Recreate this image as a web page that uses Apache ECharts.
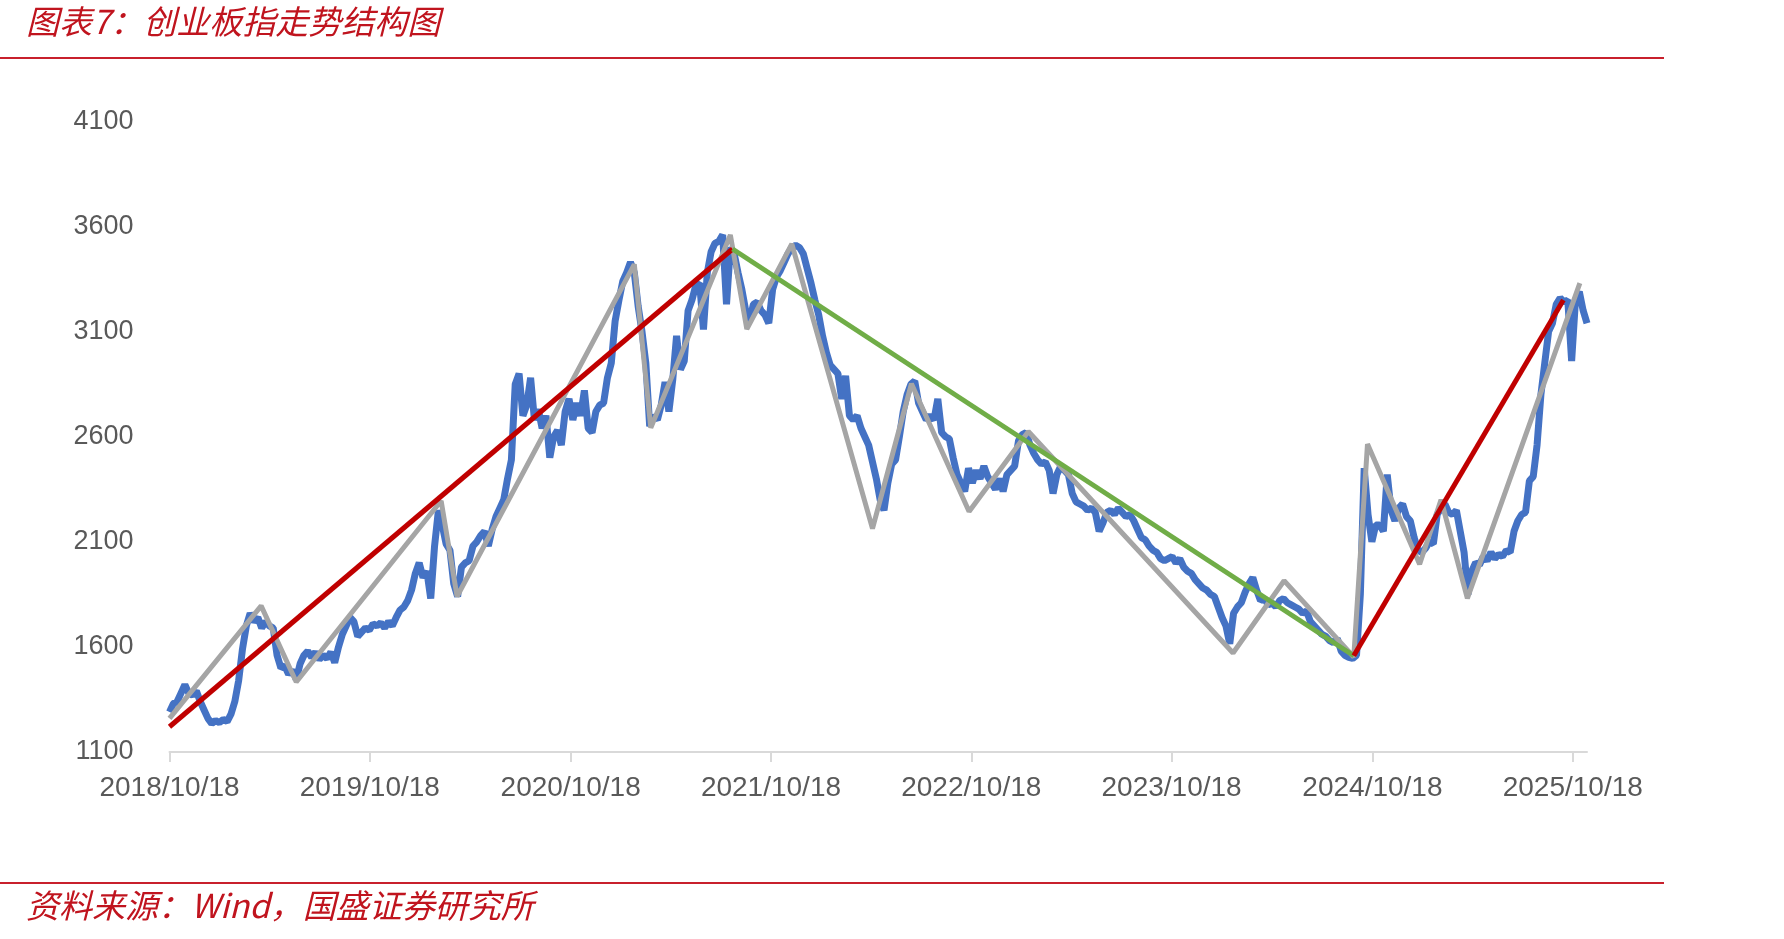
<!DOCTYPE html>
<html><head><meta charset="utf-8">
<script src="https://cdn.jsdelivr.net/npm/echarts@6/dist/echarts.min.js"></script>
<style>html,body{margin:0;padding:0;background:#fff}#chart{width:1784px;height:939px}</style>
</head><body><div id="chart"></div>
<script>
const titleText = '图表7：创业板指走势结构图';
const sourceText = '资料来源：Wind，国盛证券研究所';
const xTickDates = ['2018-10-18','2019-10-18','2020-10-18','2021-10-18','2022-10-18','2023-10-18','2024-10-18','2025-10-18'];
const xMinDate = '2018-10-18';
const xMaxDate = '2025-11-13';
const yMin = 1100, yMax = 4100, yStep = 500;

// 创业板指 (weekly readings from the picture)
const blueStart = '2018-10-18';
const blueStepDays = 7;
const blueValues = [
1290,1330,1340,1380,1420,1380,1370,1390,1340,1300,
1260,1235,1250,1240,1255,1245,1280,1340,1440,1590,
1700,1760,1720,1740,1690,1720,1700,1690,1560,1500,
1510,1470,1490,1445,1520,1560,1580,1550,1575,1540,
1560,1545,1575,1525,1600,1660,1700,1740,1720,1650,
1670,1690,1680,1710,1700,1715,1690,1720,1700,1740,
1775,1790,1820,1870,1950,2000,1930,1960,1830,2080,
2250,2180,2090,2060,1900,1840,1980,2000,2010,2080,
2100,2130,2150,2080,2160,2220,2260,2300,2400,2490,
2850,2900,2700,2750,2880,2680,2730,2640,2700,2500,
2600,2630,2560,2720,2780,2680,2760,2700,2820,2640,
2620,2720,2750,2760,2880,2950,3150,3250,3340,3380,
3430,3380,3220,3100,2950,2650,2700,2680,2750,2860,
2720,2870,3080,2920,2960,3200,3250,3320,3330,3110,
3380,3480,3520,3530,3560,3230,3500,3470,3380,3300,
3200,3150,3230,3240,3200,3180,3140,3300,3360,3390,
3430,3470,3500,3510,3500,3470,3400,3330,3250,3180,
3080,3000,2940,2920,2900,2780,2890,2700,2680,2700,
2640,2600,2560,2480,2400,2300,2250,2380,2470,2490,
2600,2720,2800,2850,2865,2760,2720,2680,2700,2680,
2780,2620,2600,2590,2500,2420,2380,2340,2450,2380,
2440,2400,2460,2410,2380,2350,2400,2340,2420,2440,
2460,2580,2610,2620,2560,2520,2490,2470,2480,2440,
2330,2420,2460,2440,2420,2330,2290,2280,2270,2250,
2260,2240,2150,2190,2240,2250,2230,2260,2240,2220,
2230,2200,2160,2120,2110,2080,2060,2050,2020,2010,
2020,2030,2000,2020,1980,1960,1950,1920,1900,1880,
1870,1850,1840,1790,1740,1700,1615,1760,1790,1810,
1860,1900,1930,1870,1820,1830,1800,1810,1790,1820,
1830,1810,1800,1790,1780,1760,1770,1720,1700,1680,
1660,1650,1630,1620,1640,1580,1560,1550,1545,1560,
1850,2450,2230,2100,2180,2180,2150,2420,2250,2200,
2260,2280,2220,2200,2120,2060,2050,2070,2100,2090,
2230,2260,2280,2240,2230,2250,2150,2050,1850,1960,
2000,1990,2030,2010,2050,2020,2040,2030,2060,2050,
2150,2200,2230,2240,2390,2410,2560,2800,2950,3100,
3140,3230,3260,3240,3250,2960,3250,3290,3200,3140
];

// grey zigzag structure
const greyDates = ['2018-10-18','2019-04-03','2019-06-06','2020-02-25','2020-03-25','2021-02-11','2021-03-13','2021-08-05','2021-09-04','2021-11-25','2022-04-21','2022-07-01','2022-10-14','2023-01-30','2024-02-07','2024-05-10','2024-09-14','2024-10-09','2025-01-12','2025-02-20','2025-04-09','2025-10-31'];
const greyValues = [1260,1795,1433,2295,1840,3420,2642,3560,3112,3517,2163,2852,2244,2625,1571,1915,1552,2565,1993,2300,1831,3331];

// trend lines
const red1Dates = ['2018-10-18','2021-08-09'];
const red1Values = [1220,3493];
const greenDates = ['2021-08-09','2024-09-14'];
const greenValues = [3493,1558];
const red2Dates = ['2024-09-14','2025-10-01'];
const red2Values = [1558,3250];

function ts(s){ const p = s.split('-').map(Number); return new Date(p[0], p[1]-1, p[2]).getTime(); }
function pairs(ds, vs){ return ds.map((d,i)=>[ts(d), vs[i]]); }

const blueData = blueValues.map((v,i)=>[ts(blueStart) + i*blueStepDays*86400000, v]);
const xTicks = xTickDates.map(ts);
function fmt(v){ const d = new Date(v); return d.getFullYear() + '/' + (d.getMonth()+1) + '/' + d.getDate(); }

const chart = echarts.init(document.getElementById('chart'));
chart.setOption({
  animation: false,
  backgroundColor: '#ffffff',
  grid: { left: 169.5, right: 197, top: 121.4, bottom: 187 },
  xAxis: {
    type: 'value', min: ts(xMinDate), max: ts(xMaxDate), scale: true,
    axisLine: { show: true, lineStyle: { color: '#D9D9D9', width: 2 } },
    axisTick: { show: true, customValues: xTicks, length: 10, lineStyle: { color: '#D9D9D9', width: 2 } },
    axisLabel: { customValues: xTicks, formatter: fmt, color: '#595959', fontFamily: 'Liberation Sans', fontSize: 28, margin: 22 },
    splitLine: { show: false }
  },
  yAxis: {
    type: 'value', min: yMin, max: yMax, interval: yStep,
    axisLine: { show: false }, axisTick: { show: false }, splitLine: { show: false },
    axisLabel: { formatter: v => String(v), color: '#595959', fontFamily: 'Liberation Sans', fontSize: 27, margin: 36 }
  },
  series: [
    { type: 'line', data: blueData, showSymbol: false, z: 2, lineStyle: { color: '#4472C4', width: 7 }, itemStyle: { color: '#4472C4' } },
    { type: 'line', data: pairs(greyDates, greyValues), showSymbol: false, z: 3, lineStyle: { color: '#A5A5A5', width: 5 }, itemStyle: { color: '#A5A5A5' } },
    { type: 'line', data: pairs(red1Dates, red1Values), showSymbol: false, z: 4, lineStyle: { color: '#C00000', width: 5 }, itemStyle: { color: '#C00000' } },
    { type: 'line', data: pairs(greenDates, greenValues), showSymbol: false, z: 4, lineStyle: { color: '#70AD47', width: 5 }, itemStyle: { color: '#70AD47' } },
    { type: 'line', data: pairs(red2Dates, red2Values), showSymbol: false, z: 5, lineStyle: { color: '#C00000', width: 5 }, itemStyle: { color: '#C00000' } }
  ],
  graphic: [
    { type: 'text', left: 26, top: 5, style: { text: titleText, fill: '#C0141E', fontFamily: 'Noto Sans CJK SC', fontStyle: 'italic', fontSize: 33 } },
    { type: 'line', shape: { x1: 0, y1: 58, x2: 1664, y2: 58 }, style: { stroke: '#C8202C', lineWidth: 2 } },
    { type: 'line', shape: { x1: 0, y1: 883, x2: 1664, y2: 883 }, style: { stroke: '#C8202C', lineWidth: 2 } },
    { type: 'text', left: 26, top: 889, style: { text: sourceText, fill: '#C0141E', fontFamily: 'Noto Sans CJK SC', fontStyle: 'italic', fontSize: 33 } }
  ]
});
</script>
</body></html>
